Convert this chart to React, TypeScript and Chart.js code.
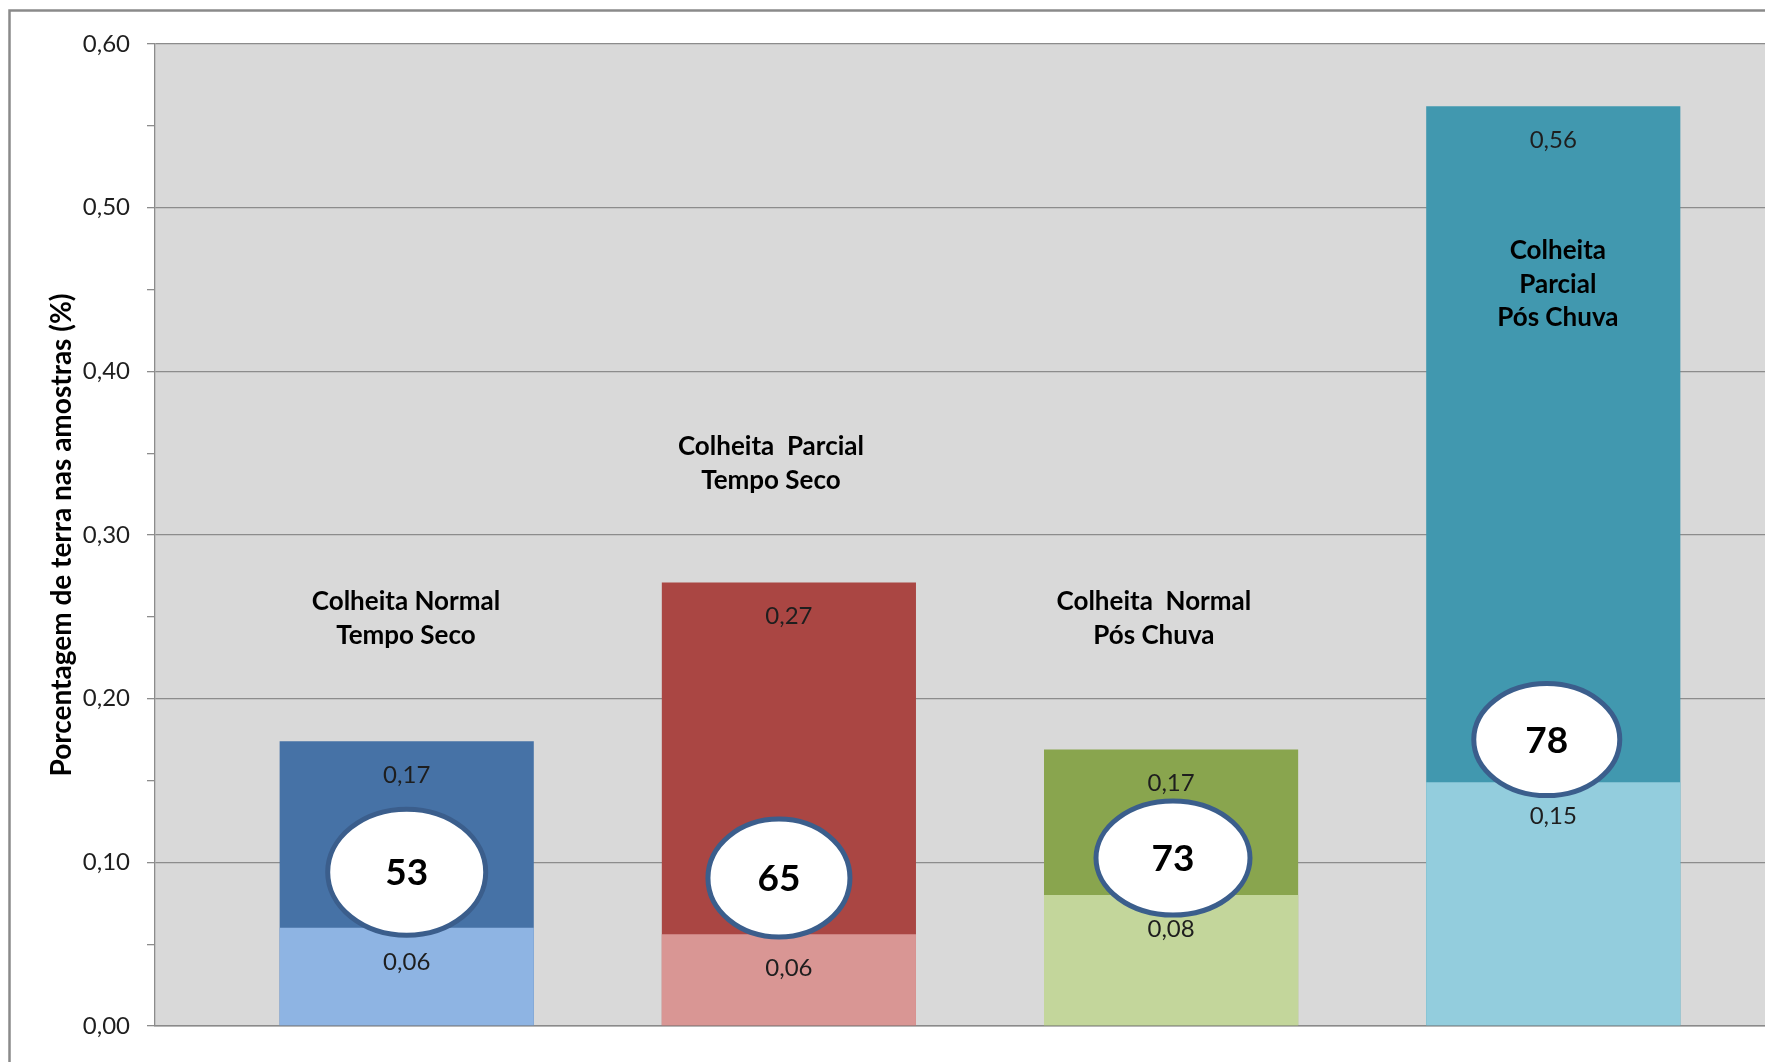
import React, { useEffect, useRef } from 'react';
import { Chart, registerables } from 'chart.js';

Chart.register(...registerables);

// ---- data ----
const categories = [
  ['Colheita Normal', 'Tempo Seco'],
  ['Colheita  Parcial', 'Tempo Seco'],
  ['Colheita  Normal', 'Pós Chuva'],
  ['Colheita', 'Parcial', 'Pós Chuva'],
];
const categoryPositions = [1, 2, 3, 4];
const totalValues = [0.174, 0.271, 0.169, 0.562];
const partValues = [0.06, 0.056, 0.08, 0.149];
const badgeValues = [53, 65, 73, 78];
const yTickLabels = ['0,00', '0,10', '0,20', '0,30', '0,40', '0,50', '0,60'];

// ---- styles / placement (in scale units) ----
const darkColors = ['#4672A6', '#AA4643', '#89A54E', '#4198AF'];
const lightColors = ['#8EB4E3', '#D99694', '#C3D69B', '#93CDDD'];
const categoryTextAnchors = [
  { x: 0.998, y: 0.259 },
  { x: 1.953, y: 0.354 },
  { x: 2.955, y: 0.259 },
  { x: 4.012, y: 0.4735 },
];
const badgeAnchors = [
  { x: 1.0, y: 0.094, rx: 79, ry: 63 },
  { x: 1.974, y: 0.0904, rx: 71, ry: 59 },
  { x: 3.005, y: 0.1026, rx: 77, ry: 57 },
  { x: 3.983, y: 0.175, rx: 73, ry: 56 },
];

const FONT = 'Lato, "Open Sans", sans-serif';
const fmt = (v: number) => v.toFixed(2).replace('.', ',');
const isMajor = (v: number) => Math.round(v * 100) % 10 === 0;

const decorPlugin = {
  id: 'decor',
  beforeDraw(chart: any) {
    const { ctx, chartArea } = chart;
    ctx.save();
    ctx.fillStyle = '#ffffff';
    ctx.fillRect(0, 0, chart.width, chart.height);
    ctx.fillStyle = '#D9D9D9';
    ctx.fillRect(chartArea.left, chartArea.top, chartArea.right - chartArea.left, chartArea.bottom - chartArea.top);
    ctx.strokeStyle = '#8a8a8a';
    ctx.lineWidth = 2.5;
    ctx.strokeRect(9.5, 10.5, chart.width + 50, chart.height + 50);
    ctx.restore();
  },
  afterDatasetsDraw(chart: any) {
    const { ctx } = chart;
    const xs = chart.scales.x;
    const ys = chart.scales.y;
    ctx.save();
    // value labels
    ctx.font = `24px ${FONT}`;
    ctx.fillStyle = '#1e1e1e';
    ctx.textAlign = 'center';
    ctx.textBaseline = 'middle';
    chart.data.datasets.forEach((ds: any, di: number) => {
      const meta = chart.getDatasetMeta(di);
      meta.data.forEach((bar: any, i: number) => {
        ctx.fillText(fmt(ds.data[i].y), bar.x, bar.y + 34);
      });
    });
    // badges
    badgeValues.forEach((val, i) => {
      const b = badgeAnchors[i];
      const cx = xs.getPixelForValue(b.x);
      const cy = ys.getPixelForValue(b.y);
      ctx.beginPath();
      ctx.ellipse(cx, cy, b.rx, b.ry, 0, 0, Math.PI * 2);
      ctx.fillStyle = '#ffffff';
      ctx.fill();
      ctx.lineWidth = 5;
      ctx.strokeStyle = '#3B5E8C';
      ctx.stroke();
      ctx.fillStyle = '#000000';
      ctx.font = `bold 37px ${FONT}`;
      ctx.fillText(String(val), cx, cy + 1);
    });
    // category texts
    ctx.font = `bold 26px ${FONT}`;
    ctx.fillStyle = '#000000';
    categories.forEach((lines, i) => {
      const a = categoryTextAnchors[i];
      const cx = xs.getPixelForValue(a.x);
      const cy = ys.getPixelForValue(a.y);
      lines.forEach((ln, k) => ctx.fillText(ln, cx, cy + k * 33.5));
    });
    ctx.restore();
  },
};

export default function App() {
  const ref = useRef<HTMLCanvasElement | null>(null);
  useEffect(() => {
    if (!ref.current) return;
    const chart = new Chart(ref.current, {
      type: 'bar',
      data: {
        datasets: [
          {
            label: 'parcial',
            data: partValues.map((y, i) => ({ x: categoryPositions[i], y })),
            backgroundColor: lightColors,
            barPercentage: 0.665,
            categoryPercentage: 1,
          } as any,
          {
            label: 'total',
            data: totalValues.map((y, i) => ({ x: categoryPositions[i], y })),
            backgroundColor: darkColors,
            barPercentage: 0.665,
            categoryPercentage: 1,
          } as any,
        ],
      },
      options: {
        responsive: false,
        animation: false,
        devicePixelRatio: 1,
        layout: { padding: { top: 44, bottom: 36, left: 0, right: 0 } },
        plugins: { legend: { display: false }, tooltip: { enabled: false } },
        scales: {
          x: {
            type: 'linear',
            stacked: true,
            offset: false,
            min: 0.3414,
            max: 4.554,
            ticks: { display: false },
            grid: { display: false, drawTicks: false, offset: false },
            border: { display: true, color: '#8a8a8a', width: 1.5 },
            afterBuildTicks: (s: any) => { s.ticks = categoryPositions.map((v) => ({ value: v })); },
            afterFit: (s: any) => { s.height = 0; },
          },
          y: {
            stacked: false,
            min: 0,
            max: 0.6,
            ticks: {
              stepSize: 0.05,
              autoSkip: false,
              padding: 17,
              color: '#1e1e1e',
              font: { family: FONT, size: 24 },
              callback: (v: any) => (isMajor(Number(v)) ? yTickLabels[Math.round(Number(v) * 10)] : ''),
            },
            grid: {
              color: (c: any) => (c.tick && isMajor(c.tick.value) ? '#8c8c8c' : 'rgba(0,0,0,0)'),
              tickColor: '#8c8c8c',
              tickLength: 8,
              lineWidth: 1.3,
            },
            border: { display: true, color: '#8c8c8c', width: 1.3 },
            title: {
              display: true,
              text: 'Porcentagem de terra nas amostras (%)',
              color: '#000000',
              font: { family: FONT, size: 28, weight: 'bold', lineHeight: 1.2 },
              padding: { top: 45, bottom: 0 },
            },
            afterFit: (s: any) => { s.width = 155; },
          },
        },
      } as any,
      plugins: [decorPlugin],
    });
    return () => chart.destroy();
  }, []);
  return (
    <div style={{ position: 'absolute', left: 0, top: 0, width: 1765, height: 1062, overflow: 'hidden' }}>
      <canvas ref={ref} width={1765} height={1062} />
    </div>
  );
}
